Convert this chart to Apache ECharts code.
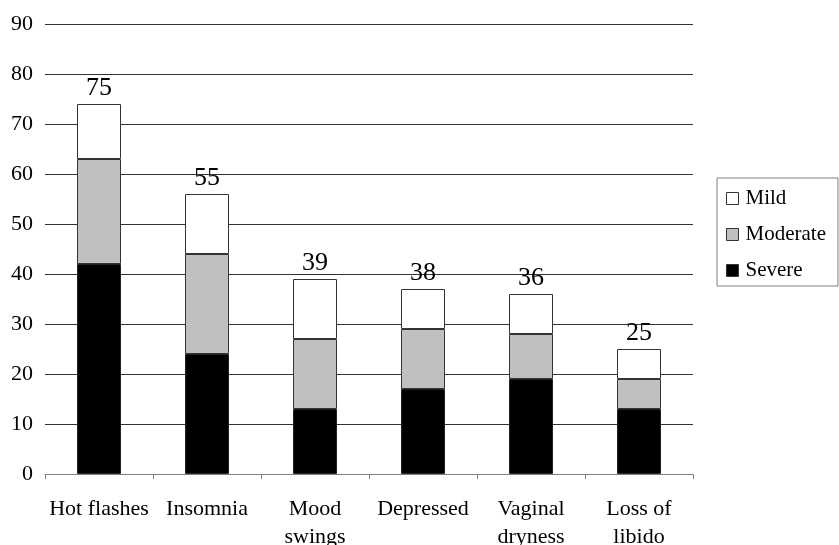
<!DOCTYPE html>
<html>
<head>
<meta charset="utf-8">
<script src="https://cdn.jsdelivr.net/npm/echarts@6/dist/echarts.min.js"></script>
<style>html,body{margin:0;padding:0;background:#fff}#c{width:839px;height:545px}</style>
</head>
<body>
<div id="c"></div>
<script>
const categories = ['Hot flashes', 'Insomnia', 'Mood\nswings', 'Depressed', 'Vaginal\ndryness', 'Loss of\nlibido'];
const severe = [42, 24, 13, 17, 19, 13];
const moderate = [21, 20, 14, 12, 9, 6];
const mild = [11, 12, 12, 8, 8, 6];
const totals = [75, 55, 39, 38, 36, 25];
const yTicks = [0, 10, 20, 30, 40, 50, 60, 70, 80, 90];

const font = 'Liberation Serif';
const chart = echarts.init(document.getElementById('c'));
const barBase = { type: 'bar', stack: 'total', barWidth: 44 };
chart.setOption({
  animation: false,
  textStyle: { fontFamily: font },
  grid: { left: 45, right: 146, top: 24, bottom: 71, outerBoundsMode: 'none', containLabel: false },
  legend: {
    orient: 'vertical', left: 717, top: 178,
    data: ['Mild', 'Moderate', 'Severe'],
    borderColor: '#808080', borderWidth: 1,
    padding: [10, 12, 5, 9], itemGap: 15,
    itemWidth: 12, itemHeight: 12,
    icon: 'rect',
    textStyle: { fontFamily: font, fontSize: 21, color: '#000', padding: [0, 0, 0, 2] },
    itemStyle: { borderColor: '#333', borderWidth: 1 }
  },
  xAxis: {
    type: 'category', data: categories,
    axisLine: { lineStyle: { color: '#808080', width: 1 } },
    axisTick: { show: true, length: 5, lineStyle: { color: '#808080' } },
    axisLabel: { fontFamily: font, fontSize: 22, color: '#000', margin: 21, lineHeight: 28, interval: 0 }
  },
  yAxis: {
    type: 'value', min: 0, max: 90, interval: 10,
    axisLine: { show: false }, axisTick: { show: false },
    axisLabel: { fontFamily: font, fontSize: 22, color: '#000', margin: 12,
      formatter: v => yTicks.includes(v) ? String(v) : '' },
    splitLine: { lineStyle: { color: '#333', width: 1 } }
  },
  series: [
    Object.assign({}, barBase, { name: 'Severe', data: severe, itemStyle: { color: '#000', borderColor: '#222', borderWidth: 1 } }),
    Object.assign({}, barBase, { name: 'Moderate', data: moderate, itemStyle: { color: '#c0c0c0', borderColor: '#333', borderWidth: 1 } }),
    Object.assign({}, barBase, { name: 'Mild', data: mild, itemStyle: { color: '#fff', borderColor: '#333', borderWidth: 1 },
      label: { show: true, position: 'top', distance: 3, fontFamily: font, fontSize: 26, color: '#000',
        formatter: p => String(totals[p.dataIndex]) } })
  ]
});
</script>
</body>
</html>
